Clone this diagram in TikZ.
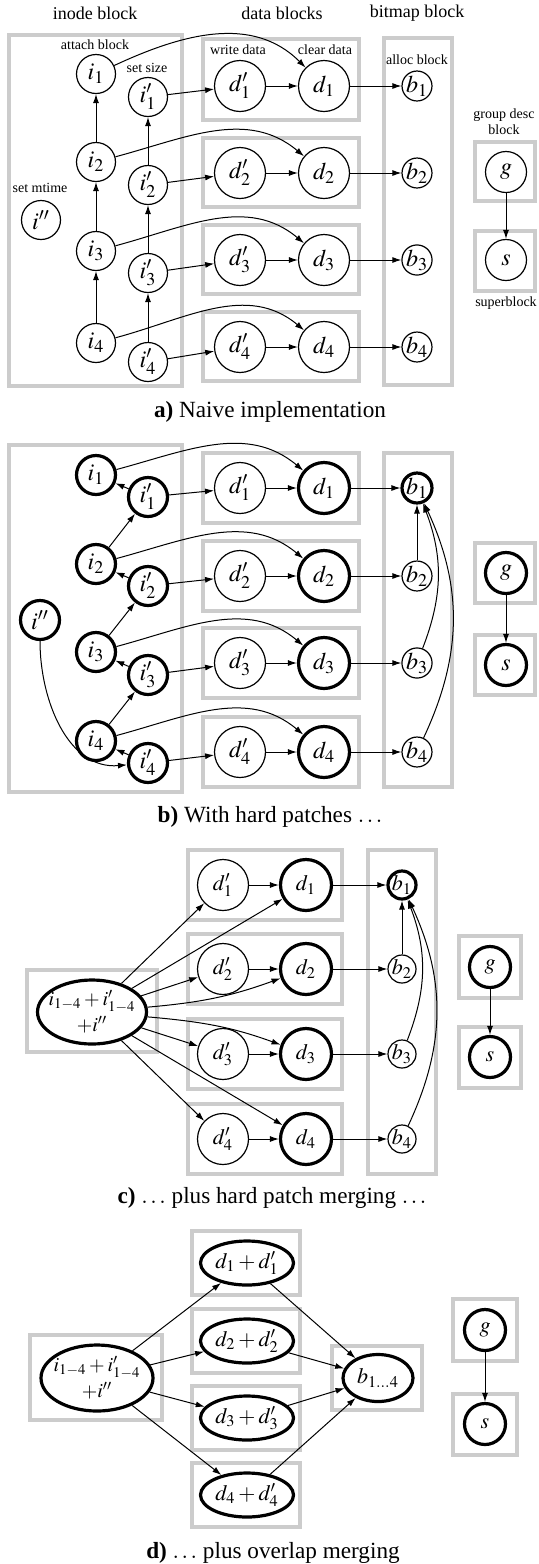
\documentclass[tikz,border=0pt]{standalone}
\usepackage{mathptmx}
\usepackage{fontspec}
\setmainfont{Liberation Serif}
\usetikzlibrary{arrows.meta,shapes.geometric}

\tikzset{
  blk/.style={draw=black!20, line width=2pt},
  nd/.style={circle, draw, line width=0.6pt, inner sep=0pt, font=\fontsize{12}{14}\selectfont},
  hard/.style={line width=1.6pt},
  inode/.style={nd, minimum size=19.5pt},
  dnode/.style={nd, minimum size=25.5pt},
  bmap/.style={nd, minimum size=14pt},
  grp/.style={nd, minimum size=20.5pt},
  sm/.style={font=\fontsize{11}{12}\selectfont},
  xs/.style={font=\fontsize{10}{13}\selectfont},
  merged/.style={ellipse, draw, hard, inner sep=0pt},
  lbl/.style={font=\fontsize{7}{8}\selectfont},
  hdr/.style={font=\fontsize{9}{10}\selectfont},
  capt/.style={font=\fontsize{11.6}{14}\selectfont},
}

\begin{document}
\begin{tikzpicture}[x=0.5pt,y=0.5pt,line width=0.5pt,>={Latex[length=4.5pt,width=3pt]}]

    \useasboundingbox (0,0) rectangle (538,-1564);

    % ---------- a) naive implementation ----------

    % block headers
    \node[hdr] (hino) at (95,-13) {inode block};
    \node[hdr] (hdat) at (282,-13) {data blocks};
    \node[hdr] (hbit) at (417,-13) {bitmap block};

    % grey blocks
    \draw[blk] (9,-35) rectangle (182,-386);
    \draw[blk] (203,-39) rectangle (359,-120);
    \draw[blk] (203,-138) rectangle (359,-207);
    \draw[blk] (203,-225) rectangle (359,-294);
    \draw[blk] (203,-312) rectangle (359,-381);
    \draw[blk] (384,-38) rectangle (452,-385);
    \draw[blk] (475,-142) rectangle (535,-201);
    \draw[blk] (475,-231) rectangle (535,-291);

    % inode patches
    \node[inode] (ai1) at (96,-74) {$i_1$};
    \node[inode] (ai2) at (96,-162) {$i_2$};
    \node[inode] (ai3) at (96,-251) {$i_3$};
    \node[inode] (ai4) at (96,-343) {$i_4$};
    \node[inode] (aip1) at (148,-97) {$i'_1$};
    \node[inode] (aip2) at (148,-185) {$i'_2$};
    \node[inode] (aip3) at (148,-273) {$i'_3$};
    \node[inode] (aip4) at (148,-362) {$i'_4$};
    \node[inode] (aipp) at (41,-220) {$i''$};

    % data patches
    \node[dnode] (adp1) at (240,-86) {$d'_1$};
    \node[dnode] (adp2) at (240,-173) {$d'_2$};
    \node[dnode] (adp3) at (240,-260) {$d'_3$};
    \node[dnode] (adp4) at (240,-347) {$d'_4$};
    \node[dnode] (ad1) at (324,-86) {$d_1$};
    \node[dnode] (ad2) at (324,-173) {$d_2$};
    \node[dnode] (ad3) at (324,-260) {$d_3$};
    \node[dnode] (ad4) at (324,-347) {$d_4$};

    % bitmap, group descriptor and superblock
    \node[bmap] (ab1) at (417,-86) {$b_1$};
    \node[bmap] (ab2) at (417,-173) {$b_2$};
    \node[bmap] (ab3) at (417,-260) {$b_3$};
    \node[bmap] (ab4) at (417,-347) {$b_4$};
    \node[grp] (ag) at (506,-172) {$g$};
    \node[grp] (as) at (506,-260) {$s$};

    % small labels
    \node[lbl] (lattach) at (95,-45) {attach block};
    \node[lbl] (lsize) at (147,-68) {set size};
    \node[lbl] (lmtime) at (40,-188) {set mtime};
    \node[lbl] (lwrite) at (238,-50) {write data};
    \node[lbl] (lclear) at (325,-50) {clear data};
    \node[lbl] (lalloc) at (417,-60) {alloc block};
    \node[lbl, align=center] (lgroup) at (504,-122) {group desc\\block};
    \node[lbl] (lsuper) at (506,-303) {superblock};

    % dependencies
    \draw[->] (ai2) to (ai1);
    \draw[->] (ai3) to (ai2);
    \draw[->] (ai4) to (ai3);
    \draw[->] (aip2) to (aip1);
    \draw[->] (aip3) to (aip2);
    \draw[->] (aip4) to (aip3);
    \draw[->] (aip1) to (adp1);
    \draw[->] (aip2) to (adp2);
    \draw[->] (aip3) to (adp3);
    \draw[->] (aip4) to (adp4);
    \draw[->] (ai1) to[out=25,in=135] (ad1);
    \draw[->] (ai2) to[out=15,in=140] (ad2);
    \draw[->] (ai3) to[out=15,in=140] (ad3);
    \draw[->] (ai4) to[out=15,in=140] (ad4);
    \draw[->] (adp1) to (ad1);
    \draw[->] (adp2) to (ad2);
    \draw[->] (adp3) to (ad3);
    \draw[->] (adp4) to (ad4);
    \draw[->] (ad1) to (ab1);
    \draw[->] (ad2) to (ab2);
    \draw[->] (ad3) to (ab3);
    \draw[->] (ad4) to (ab4);
    \draw[->] (ag) to (as);

    \node[capt] (capa) at (270,-412) {\textbf{a)} Naive implementation};

    % ---------- b) with hard patches ----------

    % grey blocks
    \draw[blk] (9,-445) rectangle (182,-792);
    \draw[blk] (203,-453) rectangle (359,-523);
    \draw[blk] (203,-541) rectangle (359,-611);
    \draw[blk] (203,-628) rectangle (359,-698);
    \draw[blk] (203,-717) rectangle (359,-787);
    \draw[blk] (384,-453) rectangle (452,-787);
    \draw[blk] (475,-543) rectangle (535,-603);
    \draw[blk] (475,-635) rectangle (535,-695);

    % inode patches
    \node[inode, hard] (bi1) at (96,-475) {$i_1$};
    \node[inode, hard] (bi2) at (96,-564) {$i_2$};
    \node[inode, hard] (bi3) at (96,-652) {$i_3$};
    \node[inode, hard] (bi4) at (96,-741) {$i_4$};
    \node[inode, hard] (bip1) at (148,-497) {$i'_1$};
    \node[inode, hard] (bip2) at (148,-586) {$i'_2$};
    \node[inode, hard] (bip3) at (148,-675) {$i'_3$};
    \node[inode, hard] (bip4) at (148,-763) {$i'_4$};
    \node[inode, hard] (bipp) at (40,-620) {$i''$};

    % data patches
    \node[dnode] (bdp1) at (240,-488) {$d'_1$};
    \node[dnode] (bdp2) at (240,-576) {$d'_2$};
    \node[dnode] (bdp3) at (240,-663) {$d'_3$};
    \node[dnode] (bdp4) at (240,-752) {$d'_4$};
    \node[dnode, hard] (bd1) at (324,-488) {$d_1$};
    \node[dnode, hard] (bd2) at (324,-576) {$d_2$};
    \node[dnode, hard] (bd3) at (324,-663) {$d_3$};
    \node[dnode, hard] (bd4) at (324,-752) {$d_4$};

    % bitmap, group descriptor and superblock
    \node[bmap, hard] (bb1) at (417,-488) {$b_1$};
    \node[bmap] (bb2) at (417,-576) {$b_2$};
    \node[bmap] (bb3) at (417,-663) {$b_3$};
    \node[bmap] (bb4) at (417,-752) {$b_4$};
    \node[grp, hard] (bg) at (506,-573) {$g$};
    \node[grp, hard] (bs) at (506,-665) {$s$};

    % dependencies
    \draw[->] (bip1) to (bi1);
    \draw[->] (bip2) to (bi2);
    \draw[->] (bip3) to (bi3);
    \draw[->] (bip4) to (bi4);
    \draw[->] (bi2) to (bip1);
    \draw[->] (bi3) to (bip2);
    \draw[->] (bi4) to (bip3);
    \draw[->] (bipp) to[out=-90,in=185] (bip4);
    \draw[->] (bip1) to (bdp1);
    \draw[->] (bip2) to (bdp2);
    \draw[->] (bip3) to (bdp3);
    \draw[->] (bip4) to (bdp4);
    \draw[->] (bi1) to[out=15,in=140] (bd1);
    \draw[->] (bi2) to[out=15,in=140] (bd2);
    \draw[->] (bi3) to[out=15,in=140] (bd3);
    \draw[->] (bi4) to[out=15,in=140] (bd4);
    \draw[->] (bdp1) to (bd1);
    \draw[->] (bdp2) to (bd2);
    \draw[->] (bdp3) to (bd3);
    \draw[->] (bdp4) to (bd4);
    \draw[->] (bd1) to (bb1);
    \draw[->] (bd2) to (bb2);
    \draw[->] (bd3) to (bb3);
    \draw[->] (bd4) to (bb4);
    \draw[->] (bb2) to (bb1);
    \draw[->] (bb3) to[bend right=21] (bb1);
    \draw[->] (bb4) to[bend right=25] (bb1);
    \draw[->] (bg) to (bs);

    \node[capt] (capb) at (270,-817) {\textbf{b)} With hard patches $\ldots$};

    % ---------- c) plus hard patch merging ----------

    % grey blocks
    \draw[blk] (27,-970) rectangle (157,-1052);
    \draw[blk] (188,-850) rectangle (342,-920);
    \draw[blk] (188,-934) rectangle (342,-1004);
    \draw[blk] (188,-1019) rectangle (342,-1089);
    \draw[blk] (188,-1104) rectangle (342,-1174);
    \draw[blk] (368,-850) rectangle (436,-1174);
    \draw[blk] (459,-936) rectangle (521,-998);
    \draw[blk] (459,-1027) rectangle (521,-1088);

    % merged inode patch
    \node[merged, minimum width=54.5pt, minimum height=32pt,
      label={[xs, align=center]center:{$i_{1-4}+i'_{1-4}$\\$+i''$}}] (cipm) at (92,-1012) {};

    % data patches
    \node[dnode, sm] (cdp1) at (223,-885) {$d'_1$};
    \node[dnode, sm] (cdp2) at (223,-969) {$d'_2$};
    \node[dnode, sm] (cdp3) at (223,-1054) {$d'_3$};
    \node[dnode, sm] (cdp4) at (223,-1139) {$d'_4$};
    \node[dnode, hard, sm] (cd1) at (306,-885) {$d_1$};
    \node[dnode, hard, sm] (cd2) at (306,-969) {$d_2$};
    \node[dnode, hard, sm] (cd3) at (306,-1054) {$d_3$};
    \node[dnode, hard, sm] (cd4) at (306,-1139) {$d_4$};

    % bitmap, group descriptor and superblock
    \node[bmap, hard, sm] (cb1) at (402,-885) {$b_1$};
    \node[bmap, sm] (cb2) at (402,-969) {$b_2$};
    \node[bmap, sm] (cb3) at (402,-1054) {$b_3$};
    \node[bmap, sm] (cb4) at (402,-1139) {$b_4$};
    \node[grp, hard, sm] (cg) at (490,-967) {$g$};
    \node[grp, hard, sm] (cs) at (490,-1057) {$s$};

    % dependencies
    \draw[->] (cipm) to (cdp1);
    \draw[->] (cipm) to (cdp2);
    \draw[->] (cipm) to (cdp3);
    \draw[->] (cipm) to (cdp4);
    \draw[->] (cipm) to (cd1);
    \draw[->] (cipm) to[out=5,in=200] (cd2);
    \draw[->] (cipm) to[out=-5,in=160] (cd3);
    \draw[->] (cipm) to (cd4);
    \draw[->] (cdp1) to (cd1);
    \draw[->] (cdp2) to (cd2);
    \draw[->] (cdp3) to (cd3);
    \draw[->] (cdp4) to (cd4);
    \draw[->] (cd1) to (cb1);
    \draw[->] (cd2) to (cb2);
    \draw[->] (cd3) to (cb3);
    \draw[->] (cd4) to (cb4);
    \draw[->] (cb2) to (cb1);
    \draw[->] (cb3) to[bend right=21] (cb1);
    \draw[->] (cb4) to[bend right=25] (cb1);
    \draw[->] (cg) to (cs);

    \node[capt] (capc) at (272,-1198) {\textbf{c)} $\ldots$ plus hard patch merging $\ldots$};

    % ---------- d) plus overlap merging ----------

    % grey blocks
    \draw[blk] (30,-1335) rectangle (162,-1420);
    \draw[blk] (192,-1231) rectangle (300,-1295);
    \draw[blk] (192,-1309) rectangle (300,-1373);
    \draw[blk] (192,-1386) rectangle (300,-1450);
    \draw[blk] (192,-1463) rectangle (300,-1527);
    \draw[blk] (332,-1346) rectangle (422,-1410);
    \draw[blk] (453,-1299) rectangle (517,-1361);
    \draw[blk] (453,-1394) rectangle (517,-1455);

    % merged patches
    \node[merged, minimum width=56pt, minimum height=33pt,
      label={[xs, align=center]center:{$i_{1-4}+i'_{1-4}$\\$+i''$}}] (dipm) at (97,-1378) {};
    \node[merged, minimum width=46.5pt, minimum height=22pt,
      label={[sm]center:{$d_1+d'_1$}}] (ddd1) at (247,-1263) {};
    \node[merged, minimum width=46.5pt, minimum height=22pt,
      label={[sm]center:{$d_2+d'_2$}}] (ddd2) at (247,-1341) {};
    \node[merged, minimum width=46.5pt, minimum height=22pt,
      label={[sm]center:{$d_3+d'_3$}}] (ddd3) at (247,-1418) {};
    \node[merged, minimum width=46.5pt, minimum height=22pt,
      label={[sm]center:{$d_4+d'_4$}}] (ddd4) at (247,-1495) {};
    \node[merged, minimum width=35pt, minimum height=23.5pt,
      label={[sm]center:{$b_{1\ldots4}$}}] (db) at (378,-1378) {};
    \node[grp, hard, sm] (dg) at (485,-1330) {$g$};
    \node[grp, hard, sm] (ds) at (485,-1424) {$s$};

    % dependencies
    \draw[->] (dipm) to (ddd1);
    \draw[->] (dipm) to (ddd2);
    \draw[->] (dipm) to (ddd3);
    \draw[->] (dipm) to (ddd4);
    \draw[->] (ddd1) to (db);
    \draw[->] (ddd2) to (db);
    \draw[->] (ddd3) to (db);
    \draw[->] (ddd4) to (db);
    \draw[->] (dg) to (ds);

    \node[capt] (capd) at (273,-1553) {\textbf{d)} $\ldots$ plus overlap merging};

\end{tikzpicture}
\end{document}
